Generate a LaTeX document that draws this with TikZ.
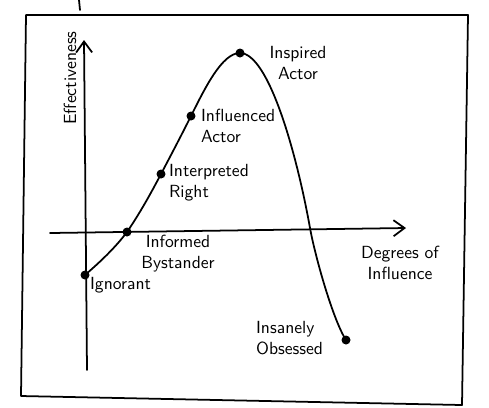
\documentclass[tikz,border=0pt]{standalone}
\usepackage{xcolor}
\usetikzlibrary{arrows.meta}
\tikzset{
 dot/.style={circle, fill=black, inner sep=0pt, minimum size=0.18cm},
 lbl/.style={font=\sffamily, align=left, inner sep=1pt},
 pen/.style={line width=1pt, line cap=round, line join=round},
}

\begin{document}
\begin{tikzpicture}[x=0.02cm, y=-0.02cm]
\useasboundingbox (0,0) rectangle (489,407);

%frame:
 \draw[pen] (26,15) -- (468,15) -- (462,405) -- (21,396) -- cycle;
 \draw[pen] (79,0) -- (80,10);

%axes:
 \coordinate (yb) at (87,370);
 \coordinate (yt) at (84,40);
 \coordinate (xl) at (50,233);
 \coordinate (xr) at (406,228);
 \draw[pen,-{Straight Barb[length=2.2mm,width=3.2mm]}] (yb) -- (yt);
 \draw[pen,-{Straight Barb[length=2.2mm,width=3.2mm]}] (xl) -- (xr);
 \node[lbl, rotate=90] (eff) at (70,78) {Effectiveness};
 \node[lbl, align=center] (deg) at (400,263) {Degrees of\\Influence};

%stages:
 \node[dot] (ign) at (85,275) {};
 \node[dot] (bys) at (127,232) {};
 \node[dot] (rgt) at (161,174) {};
 \node[dot] (infl) at (191,116) {};
 \node[dot] (insp) at (240,53) {};
 \node[dot] (obs) at (346,340) {};
 \coordinate (fall) at (310,228);

 \draw[pen] (ign.center) .. controls (100,262) and (115,248) .. (bys.center)
   .. controls (140,213) and (151,193) .. (rgt.center)
   .. controls (171,155) and (181,136) .. (infl.center)
   .. controls (205,88) and (222,53) .. (insp.center)
   .. controls (268,53) and (296,150) .. (fall)
   .. controls (315,256) and (333,320) .. (obs.center);

%labels
 \node[lbl, align=center] (tinsp) at (298,63) {Inspired\\Actor};
 \node[lbl, anchor=west] (tinfl) at (199,126) {Influenced\\Actor};
 \node[lbl, anchor=west] (trgt) at (167,183) {Interpreted\\Right};
 \node[lbl, align=center] (tbys) at (178,254) {Informed\\Bystander};
 \node[lbl, anchor=west] (tign) at (88,285) {Ignorant};
 \node[lbl, anchor=west] (tobs) at (254,338) {Insanely\\Obsessed};
\end{tikzpicture}
\end{document}
